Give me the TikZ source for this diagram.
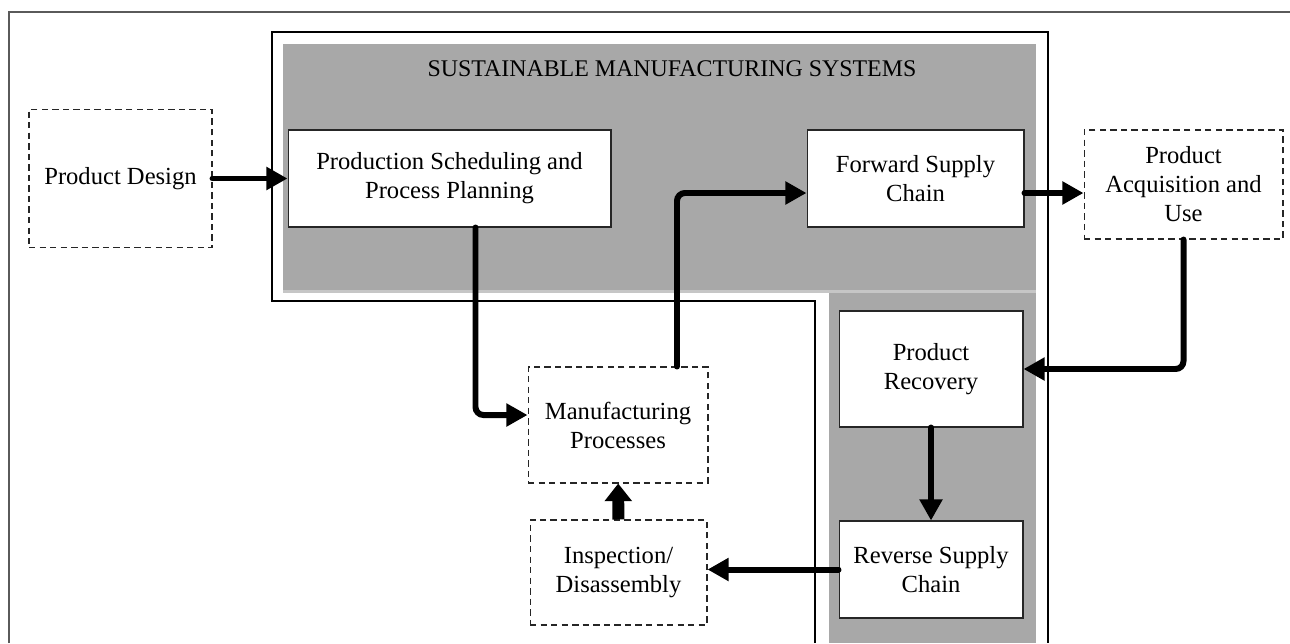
\documentclass[tikz,border=0pt]{standalone}
\usepackage{fontspec}
\setmainfont{Liberation Serif}
\definecolor{smsgray}{HTML}{A8A8A8}
\definecolor{smsedge}{HTML}{C6C6C6}
\definecolor{framegray}{HTML}{5A5A5A}
\usetikzlibrary{arrows.meta, positioning, calc}

\begin{document}
\begin{tikzpicture}[x=0.02cm, y=-0.02cm,
    solidbox/.style={draw=black!85, line width=0.6pt, fill=white, align=center,
      inner sep=0pt, font=\fontsize{14}{16.5}\selectfont},
    dashbox/.style={solidbox, dash pattern=on 3.6pt off 2.4pt},
    flow/.style={line width=3.4pt, line cap=round, rounded corners=4.5pt,
      -{Triangle[length=12pt, width=12.5pt]}},
    bigflow/.style={line width=6.8pt, -{Triangle[length=10pt, width=15pt]}}]
  \useasboundingbox (0,0) rectangle (1290,643);
  % outer frame, cut at right and bottom
  \draw[framegray, line width=0.9pt] (9,643) -- (9,12) -- (1290,12);
  % gray system area
  \fill[smsedge] (283,44) rectangle (1036,293);
  \fill[smsgray] (283,44) rectangle (1036,290);
  \fill[smsgray] (829,293) rectangle (1036,643);
  \draw[line width=1.1pt] (815,643) -- (815,301) -- (272,301) -- (272,32)
    -- (1048,32) -- (1048,643);
  \node[font=\fontsize{13.6}{16}\selectfont] (title) at (672,68.5)
    {SUSTAINABLE MANUFACTURING SYSTEMS};
  % boxes
  \node[dashbox, minimum width=3.66cm, minimum height=2.76cm] (design)
    at (120.5,178.5) {Product Design};
  \node[solidbox, minimum width=6.46cm, minimum height=1.94cm] (sched)
    at (449.5,178.5) {Production Scheduling and\\Process Planning};
  \node[solidbox, minimum width=4.34cm, minimum height=1.94cm] (fwd)
    at (915.5,178.5) {Forward Supply\\Chain};
  \node[dashbox, minimum width=3.98cm, minimum height=2.18cm] (acq)
    at (1183.5,184.5) {Product\\Acquisition and\\Use};
  \node[solidbox, minimum width=3.68cm, minimum height=2.32cm] (recov)
    at (931,369) {Product\\Recovery};
  \node[solidbox, minimum width=3.68cm, minimum height=1.94cm] (rev)
    at (931,569.5) {Reverse Supply\\Chain};
  \node[dashbox, minimum width=3.6cm, minimum height=2.32cm] (mfg)
    at (618,425) {Manufacturing\\Processes};
  \node[dashbox, minimum width=3.54cm, minimum height=2.1cm] (insp)
    at (618.5,572.5) {Inspection/\\Disassembly};
  % connectors
  \coordinate (fwdout) at ([yshift=-0.29cm]fwd.east);
  \draw[flow] (design) -- (sched);
  \draw[flow] ([xshift=0.52cm]sched.south) |- ([yshift=0.2cm]mfg.west);
  \draw[flow] ([xshift=1.18cm]mfg.north) |- ([yshift=-0.29cm]fwd.west);
  \draw[flow] (fwdout) -- (fwdout -| acq.west);
  \draw[flow] (acq.south) |- (recov.east);
  \draw[flow] (recov) -- (rev);
  \draw[flow] (rev.west) -- (rev.west -| insp.east);
  \draw[bigflow] (insp) -- (mfg);
\end{tikzpicture}
\end{document}
